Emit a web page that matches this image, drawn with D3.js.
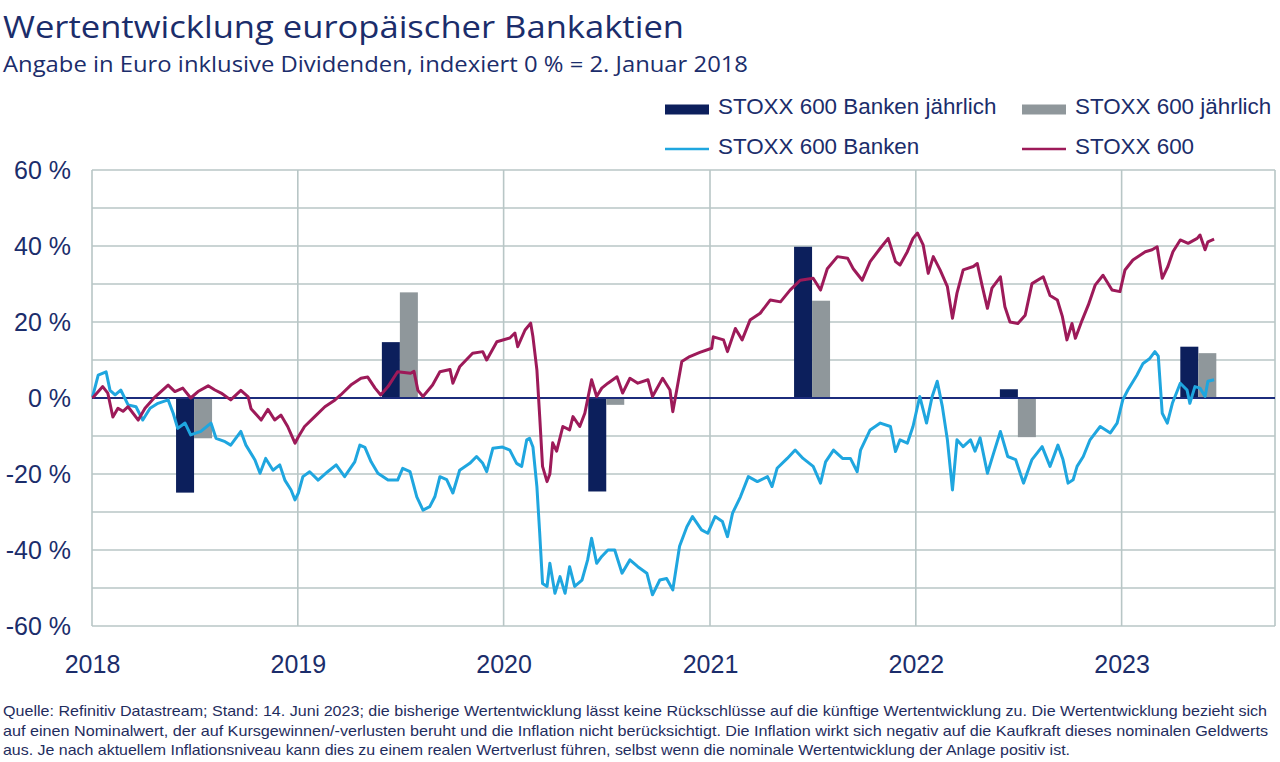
<!DOCTYPE html>
<html><head><meta charset="utf-8">
<script src="https://cdn.jsdelivr.net/npm/d3@7"></script>
<style>
html,body{margin:0;padding:0;background:#fff;}
svg{display:block;}
</style></head>
<body>
<svg id="chart" width="1280" height="762"></svg>
<script>
// ---------- data ----------
const yearLabels = ["2018","2019","2020","2021","2022","2023"];
const barDates = ["2018-07-01","2019-07-01","2020-07-01","2021-07-01","2022-07-01","2023-05-17"];
const banksAnnual = [-24.9, 14.7, -24.6, 39.8, 2.3, 13.5];
const stoxxAnnual = [-10.6, 27.8, -1.8, 25.6, -10.3, 11.8];
const yTickValues = [-60,-40,-20,0,20,40,60];
const seriesNames = ["STOXX 600 Banken jährlich","STOXX 600 jährlich","STOXX 600 Banken","STOXX 600"];

const stoxxSeries = [
["2018-01-02",0],["2018-01-20",3],["2018-01-29",1.3],["2018-02-07",-5],["2018-02-16",-2.7],["2018-02-25",-3.5],
["2018-03-06",-2.3],["2018-03-24",-5.8],["2018-04-05",-2.7],["2018-04-23",0.3],["2018-05-16",3.4],["2018-05-28",1.7],
["2018-06-11",2.6],["2018-06-25",0],["2018-07-08",1.7],["2018-07-26",3.2],["2018-08-07",2.1],["2018-08-18",1.3],
["2018-09-04",-0.5],["2018-09-22",2],["2018-10-05",0.3],["2018-10-10",-2.8],["2018-10-28",-5.8],["2018-11-09",-3],
["2018-11-21",-5.8],["2018-12-02",-4.5],["2018-12-14",-7.5],["2018-12-27",-11.9],["2019-01-02",-10.2],["2019-01-13",-7.5],
["2019-01-31",-4.9],["2019-02-18",-2.3],["2019-03-08",-0.5],["2019-03-18",0.8],["2019-04-05",3.4],["2019-04-23",5.2],
["2019-05-05",5.5],["2019-05-18",2.6],["2019-05-28",0.8],["2019-06-10",3],["2019-06-27",6.9],["2019-07-20",6.5],
["2019-07-26",7],["2019-08-02",2],["2019-08-11",0.4],["2019-08-28",3.4],["2019-09-10",6.9],["2019-09-28",7.5],
["2019-10-03",3.9],["2019-10-15",8.2],["2019-11-07",11.8],["2019-11-25",12.2],["2019-12-02",10],["2019-12-20",14.8],
["2020-01-12",15.8],["2020-01-21",17.1],["2020-01-26",13.5],["2020-02-08",17.9],["2020-02-18",19.7],["2020-02-22",16.1],
["2020-02-29",7.4],["2020-03-05",-4.9],["2020-03-10",-18],["2020-03-18",-22],["2020-03-23",-20],["2020-03-28",-11.8],
["2020-04-04",-14],["2020-04-15",-7.5],["2020-04-27",-8.4],["2020-05-03",-4.9],["2020-05-15",-7.5],["2020-05-24",-4],
["2020-06-05",4.8],["2020-06-14",0.4],["2020-06-23",2.6],["2020-07-04",3.9],["2020-07-20",5.6],["2020-07-30",1.3],
["2020-08-12",5.2],["2020-08-26",3.9],["2020-09-13",4.8],["2020-09-21",0.4],["2020-10-09",5.2],["2020-10-22",2.1],
["2020-10-27",-3.6],["2020-11-03",2.1],["2020-11-12",9.6],["2020-11-26",10.9],["2020-12-14",12],["2021-01-04",13.1],
["2021-01-07",16.1],["2021-01-25",15.3],["2021-02-01",12.2],["2021-02-15",18.3],["2021-02-27",15.3],["2021-03-13",20.5],
["2021-03-31",22.3],["2021-04-18",25.8],["2021-05-06",25.3],["2021-05-23",28.4],["2021-06-10",31],["2021-07-03",31.5],
["2021-07-16",28.4],["2021-07-28",34],["2021-08-15",37.2],["2021-09-02",36.8],["2021-09-12",34],["2021-09-28",31],
["2021-10-12",35.9],["2021-10-30",39.4],["2021-11-13",42],["2021-11-26",35.9],["2021-12-04",35],["2021-12-17",38.5],
["2021-12-27",42],["2022-01-04",43.4],["2022-01-14",40.3],["2022-01-23",32.8],["2022-02-01",37.2],["2022-02-13",33.7],
["2022-02-26",29.3],["2022-03-07",21],["2022-03-15",27.6],["2022-03-26",33.7],["2022-04-13",34.6],["2022-04-20",35.4],
["2022-04-29",29.3],["2022-05-08",23.6],["2022-05-16",28.9],["2022-05-31",31.9],["2022-06-08",24],["2022-06-17",20],
["2022-07-01",19.6],["2022-07-14",21.8],["2022-07-26",30.1],["2022-08-15",31.9],["2022-08-27",27],["2022-09-09",25.8],
["2022-09-18",21.4],["2022-09-26",15.3],["2022-10-05",19.6],["2022-10-11",15.7],["2022-10-23",20.5],["2022-11-03",24.5],
["2022-11-15",29.7],["2022-11-29",32.3],["2022-12-15",28.4],["2022-12-29",28],["2023-01-07",33.7],["2023-01-21",36.3],
["2023-02-12",38.5],["2023-02-24",39],["2023-03-05",39.8],["2023-03-14",31.5],["2023-03-24",34.6],["2023-04-02",38.5],
["2023-04-15",41.6],["2023-04-29",40.7],["2023-05-15",42],["2023-05-20",42.9],["2023-05-29",39],["2023-06-03",41.1],
["2023-06-14",41.8]
];

const banksSeries = [
["2018-01-02",0.3],["2018-01-12",6],["2018-01-26",6.9],["2018-02-02",2],["2018-02-11",0.8],["2018-02-21",2.1],
["2018-03-06",-1.8],["2018-03-20",-2.3],["2018-04-01",-5.8],["2018-04-14",-2.7],["2018-04-28",-1.4],["2018-05-16",-0.5],
["2018-05-25",-4],["2018-06-02",-8],["2018-06-15",-6.6],["2018-06-25",-9.7],["2018-07-13",-8.8],["2018-07-31",-6.6],
["2018-08-09",-10.6],["2018-08-25",-11.5],["2018-09-04",-12.4],["2018-09-22",-8.8],["2018-10-01",-12.4],["2018-10-17",-16.3],
["2018-10-26",-19.8],["2018-11-05",-15.9],["2018-11-18",-19],["2018-11-30",-17.6],["2018-12-09",-21.6],["2018-12-20",-24.2],
["2018-12-27",-26.8],["2019-01-02",-25],["2019-01-10",-20.7],["2019-01-22",-19.4],["2019-02-06",-21.6],["2019-02-23",-19.4],
["2019-03-10",-17.6],["2019-03-25",-20.7],["2019-04-12",-16.8],["2019-04-21",-12.4],["2019-04-30",-13],["2019-05-11",-16.8],
["2019-05-23",-19.8],["2019-06-10",-21.6],["2019-06-27",-21.6],["2019-07-06",-18.5],["2019-07-19",-19.4],["2019-07-31",-26],
["2019-08-11",-29.5],["2019-08-23",-28.6],["2019-09-01",-26],["2019-09-10",-20.7],["2019-09-22",-21.5],["2019-10-03",-25],
["2019-10-15",-19],["2019-11-02",-17.2],["2019-11-14",-15.4],["2019-11-25",-17.2],["2019-12-02",-19.4],["2019-12-13",-13.2],
["2019-12-30",-12.9],["2020-01-12",-13.7],["2020-01-24",-17.2],["2020-02-02",-18],["2020-02-11",-11],["2020-02-16",-10.6],
["2020-02-22",-12.9],["2020-02-29",-23.3],["2020-03-05",-35.6],["2020-03-10",-48.8],["2020-03-18",-49.6],["2020-03-23",-43.5],
["2020-04-01",-51.4],["2020-04-10",-47],["2020-04-19",-51.4],["2020-04-27",-44.4],["2020-05-06",-49.6],["2020-05-19",-47.9],
["2020-05-29",-42.6],["2020-06-05",-36.9],["2020-06-14",-43.5],["2020-06-23",-41.7],["2020-07-04",-40],["2020-07-16",-40],
["2020-07-29",-46.1],["2020-08-12",-42.6],["2020-08-26",-44.4],["2020-09-11",-46.1],["2020-09-21",-51.8],["2020-10-04",-47.9],
["2020-10-16",-47.5],["2020-10-27",-50.5],["2020-11-08",-39],["2020-11-21",-33.9],["2020-12-01",-31.2],["2020-12-17",-34.7],
["2020-12-28",-35.6],["2021-01-10",-31.2],["2021-01-23",-32.5],["2021-02-01",-36.5],["2021-02-10",-30.3],["2021-02-24",-26],
["2021-03-10",-20.7],["2021-03-26",-22],["2021-04-13",-20.7],["2021-04-21",-23.3],["2021-04-30",-18.5],["2021-05-18",-15.9],
["2021-06-01",-13.7],["2021-06-15",-15.9],["2021-07-03",-18],["2021-07-16",-22.4],["2021-07-25",-16.8],["2021-08-08",-13.7],
["2021-08-24",-15.9],["2021-09-07",-15.9],["2021-09-19",-19.4],["2021-09-25",-13.7],["2021-10-12",-8.4],["2021-10-30",-6.6],
["2021-11-17",-7.5],["2021-11-26",-14.1],["2021-12-04",-11],["2021-12-17",-11.9],["2021-12-27",-7.5],["2022-01-08",0.4],
["2022-01-20",-6.6],["2022-01-30",0.4],["2022-02-08",4.4],["2022-02-17",-2.2],["2022-02-26",-11],["2022-03-07",-24.2],
["2022-03-15",-11],["2022-03-26",-12.8],["2022-04-08",-11],["2022-04-16",-14],["2022-04-25",-10.5],["2022-05-08",-19.8],
["2022-05-19",-14.5],["2022-05-31",-8.8],["2022-06-13",-15.4],["2022-06-27",-16.2],["2022-07-11",-22.4],["2022-07-26",-16.2],
["2022-08-13",-12.8],["2022-08-27",-18],["2022-09-10",-12.4],["2022-09-19",-16.2],["2022-09-28",-22.4],["2022-10-07",-21.5],
["2022-10-14",-18],["2022-10-25",-15.4],["2022-11-06",-11],["2022-11-24",-7.5],["2022-12-12",-9.2],["2022-12-24",-6.6],
["2023-01-03",-0.5],["2023-01-12",2.1],["2023-01-28",6],["2023-02-08",9.1],["2023-02-20",10.4],["2023-03-01",12.2],
["2023-03-07",11],["2023-03-14",-4],["2023-03-23",-6.6],["2023-04-01",-1.4],["2023-04-15",3.9],["2023-04-27",2.1],
["2023-05-02",-1.4],["2023-05-11",3],["2023-05-20",2.6],["2023-05-29",0.4],["2023-06-03",4.4],["2023-06-14",4.8]
];

const titleText = "Wertentwicklung europäischer Bankaktien";
const subtitleText = "Angabe in Euro inklusive Dividenden, indexiert 0 % = 2. Januar 2018";
const footerLines = [
"Quelle: Refinitiv Datastream; Stand: 14. Juni 2023; die bisherige Wertentwicklung lässt keine Rückschlüsse auf die künftige Wertentwicklung zu. Die Wertentwicklung bezieht sich",
"auf einen Nominalwert, der auf Kursgewinnen/-verlusten beruht und die Inflation nicht berücksichtigt. Die Inflation wirkt sich negativ auf die Kaufkraft dieses nominalen Geldwerts",
"aus. Je nach aktuellem Inflationsniveau kann dies zu einem realen Wertverlust führen, selbst wenn die nominale Wertentwicklung der Anlage positiv ist."
];

// ---------- drawing ----------
const TEXT = "#1b2d6b";
const C_DARK = "#0c1f5c", C_GRAY = "#8f979b", C_BLUE = "#1fa6df", C_RED = "#9d1a59";
const GRID = "#b8c6c6";
const parse = d3.timeParse("%Y-%m-%d");
const svg = d3.select("#chart");
const AX = "'Liberation Sans', Arial, sans-serif";
const TF = "'Open Sans', 'Noto Sans', sans-serif";

const pL = 92, pR = 1275, pT = 170, pB = 626;
const x = d3.scaleTime().domain([new Date(2018,0,1), new Date(2023,8,30)]).range([pL, pR]);
const y = d3.scaleLinear().domain([-60, 60]).range([pB, pT]);

// title
svg.append("text").attr("x",3).attr("y",38).attr("fill",TEXT)
  .style("font-family",TF).style("font-size","31px")
  .attr("textLength",681).attr("lengthAdjust","spacingAndGlyphs").text(titleText);
svg.append("text").attr("x",3).attr("y",72).attr("fill",TEXT)
  .style("font-family",TF).style("font-size","21.5px")
  .attr("textLength",745).attr("lengthAdjust","spacingAndGlyphs").text(subtitleText);

// grid
const g = svg.append("g");
g.selectAll("line.hg").data(d3.range(-60, 61, 10)).join("line")
  .attr("x1",pL).attr("x2",pR).attr("y1",d=>y(d)).attr("y2",d=>y(d))
  .attr("stroke",GRID).attr("stroke-width",1.6);
const yearTicks = yearLabels.map(s => parse(s + "-01-01"));
g.selectAll("line.vg").data(yearTicks).join("line")
  .attr("x1",d=>x(d)).attr("x2",d=>x(d)).attr("y1",pT).attr("y2",pB)
  .attr("stroke",GRID).attr("stroke-width",1.6);
g.append("line").attr("x1",pR).attr("x2",pR).attr("y1",pT).attr("y2",pB)
  .attr("stroke",GRID).attr("stroke-width",1.6);

// bars
const barW = 18;
const bars = svg.append("g");
barDates.forEach((ds, i) => {
  const cx = x(parse(ds));
  bars.append("rect").attr("x",cx-barW).attr("width",barW)
    .attr("y",y(Math.max(0,banksAnnual[i]))).attr("height",Math.abs(y(banksAnnual[i])-y(0)))
    .attr("fill",C_DARK);
  bars.append("rect").attr("x",cx).attr("width",barW)
    .attr("y",y(Math.max(0,stoxxAnnual[i]))).attr("height",Math.abs(y(stoxxAnnual[i])-y(0)))
    .attr("fill",C_GRAY);
});

// zero line
svg.append("line").attr("x1",pL).attr("x2",pR).attr("y1",y(0)).attr("y2",y(0))
  .attr("stroke","#1c2c7c").attr("stroke-width",2);

// lines
const line = d3.line().x(d=>x(parse(d[0]))).y(d=>y(d[1]));
svg.append("path").datum(banksSeries).attr("d",line).attr("fill","none")
  .attr("stroke",C_BLUE).attr("stroke-width",3).attr("stroke-linejoin","round");
svg.append("path").datum(stoxxSeries).attr("d",line).attr("fill","none")
  .attr("stroke",C_RED).attr("stroke-width",3).attr("stroke-linejoin","round");

// y axis
const yAxis = svg.append("g").attr("transform",`translate(${pL},0)`)
  .call(d3.axisLeft(y).tickValues(yTickValues).tickSize(0).tickPadding(21).tickFormat(d => `${d} %`));
yAxis.select(".domain").remove();
yAxis.selectAll("text").attr("fill",TEXT).style("font-family",AX).style("font-size","25px");

// x axis
const xAxis = svg.append("g").attr("transform",`translate(0,${pB})`)
  .call(d3.axisBottom(x).tickValues(yearTicks).tickSize(0).tickPadding(29).tickFormat(d3.timeFormat("%Y")));
xAxis.select(".domain").remove();
xAxis.selectAll("text").attr("fill",TEXT).style("font-family",AX).style("font-size","25px");

// legend
const leg = svg.append("g").style("font-family",AX).style("font-size","22.4px");
const legItems = [
  {name: seriesNames[0], type:"rect", color:C_DARK, sx:665, ty:114, sy:109.5},
  {name: seriesNames[1], type:"rect", color:C_GRAY, sx:1022, ty:114, sy:109.5},
  {name: seriesNames[2], type:"line", color:C_BLUE, sx:665, ty:154, sy:149},
  {name: seriesNames[3], type:"line", color:C_RED, sx:1022, ty:154, sy:149}
];
legItems.forEach(it => {
  if (it.type === "rect") {
    leg.append("rect").attr("x",it.sx).attr("y",it.sy-5).attr("width",44).attr("height",10).attr("fill",it.color);
  } else {
    leg.append("line").attr("x1",it.sx).attr("x2",it.sx+44).attr("y1",it.sy).attr("y2",it.sy)
      .attr("stroke",it.color).attr("stroke-width",2.6);
  }
  leg.append("text").attr("x",it.sx+53).attr("y",it.ty).attr("fill",TEXT).text(it.name);
});

// footer
const footWidths = [1264, 1265, 1067];
footerLines.forEach((t, i) => {
  svg.append("text").attr("x",3).attr("y",716 + i*19.5).attr("fill","#1f2d5e")
    .style("font-family",AX).style("font-size","15px")
    .attr("textLength",footWidths[i]).attr("lengthAdjust","spacingAndGlyphs").text(t);
});
</script>
</body></html>
